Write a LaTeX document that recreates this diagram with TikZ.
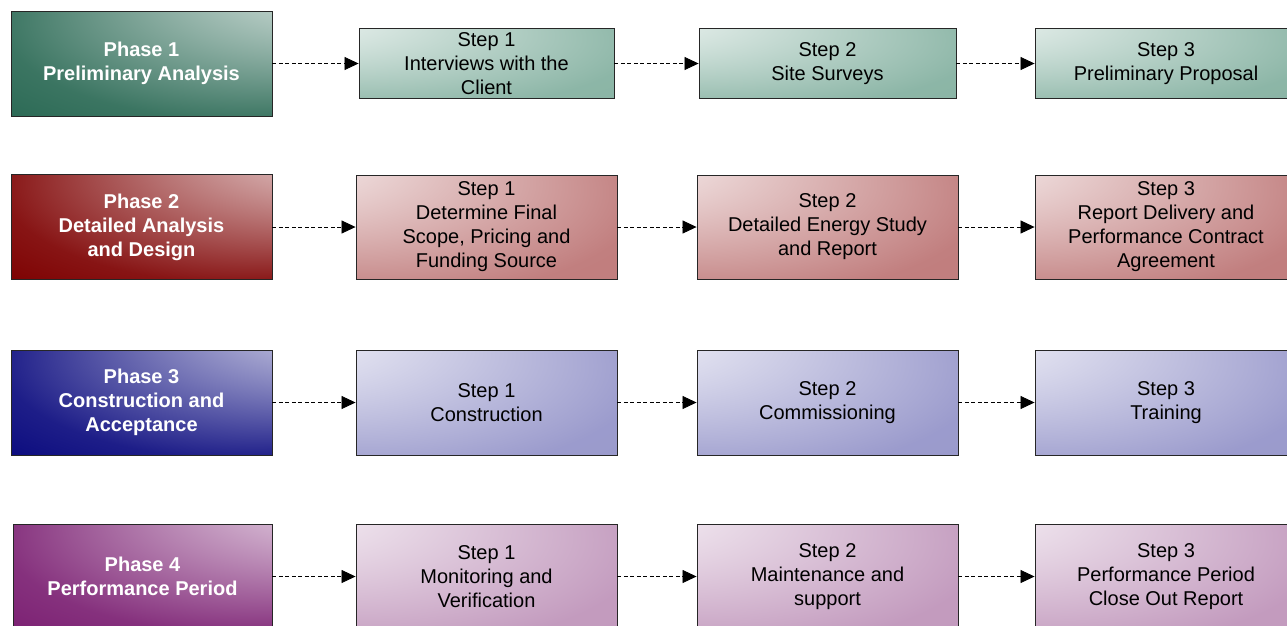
\documentclass[tikz,border=0pt]{standalone}
\usepackage{fontspec}
\setmainfont{Liberation Sans}
\usetikzlibrary{arrows.meta}
\definecolor{pgA}{HTML}{2A6954}\definecolor{sgA}{HTML}{86B2A2}
\definecolor{pgB}{HTML}{7D0000}\definecolor{sgB}{HTML}{BE7878}
\definecolor{pgC}{HTML}{0A0A7E}\definecolor{sgC}{HTML}{9696CA}
\definecolor{pgD}{HTML}{7B1F72}\definecolor{sgD}{HTML}{C096BB}
\newcommand\mkphaseshade[2]{\pgfdeclareradialshading{#1}{\pgfpoint{50bp}{50bp}}{color(0bp)=(white); color(8bp)=(#2!15!white); color(28bp)=(#2!55!white); color(46bp)=(#2!92!white); color(56bp)=(#2); color(75bp)=(#2)}}
\newcommand\mkstepshade[2]{\pgfdeclareradialshading{#1}{\pgfpoint{-50bp}{40bp}}{color(0bp)=(white); color(12bp)=(#2!22!white); color(48bp)=(#2!95!white); color(75bp)=(#2)}}
\mkphaseshade{phA}{pgA}\mkphaseshade{phB}{pgB}\mkphaseshade{phC}{pgC}\mkphaseshade{phD}{pgD}
\mkstepshade{stA}{sgA}\mkstepshade{stB}{sgB}\mkstepshade{stC}{sgC}\mkstepshade{stD}{sgD}
\tikzset{
  phasebox/.style={draw=black!85, line width=0.9pt, align=center, text=white,
    font=\fontsize{20}{24}\selectfont\bfseries, minimum width=261pt, minimum height=105pt, inner sep=0pt},
  stepbox/.style={draw=black!85, line width=0.9pt, align=center, text=black,
    font=\fontsize{20}{24}\selectfont, minimum height=#1, inner sep=0pt},
  stepbox/.default=104pt,
  flow/.style={dash pattern=on 4pt off 2.5pt, line width=0.8pt, -{Triangle[length=14pt,width=13pt]}}
}
\begin{document}
\begin{tikzpicture}[x=1pt,y=-1pt]
\useasboundingbox (0,0) rectangle (1287,625);
\clip (0,0) rectangle (1287,625);
% Row 1
\node[phasebox, shading=phA] (p1) at (141.5,63.5) {Phase 1\\Preliminary Analysis};
\node[stepbox=70pt, shading=stA, minimum width=255pt] (s11) at (486.5,63.5) {Step 1\\Interviews with the\\Client};
\node[stepbox=70pt, shading=stA, minimum width=257pt] (s12) at (827.5,63.5) {Step 2\\Site Surveys};
\node[stepbox=70pt, shading=stA, minimum width=262pt] (s13) at (1166,63.5) {Step 3\\Preliminary Proposal};
% Row 2
\node[phasebox, shading=phB] (p2) at (141.5,227) {Phase 2\\Detailed Analysis\\and Design};
\node[stepbox, shading=stB, minimum width=261pt] (s21) at (486.5,227) {Step 1\\Determine Final\\Scope, Pricing and\\Funding Source};
\node[stepbox, shading=stB, minimum width=261pt] (s22) at (827.5,227) {Step 2\\Detailed Energy Study\\and Report};
\node[stepbox, shading=stB, minimum width=262pt] (s23) at (1166,227) {Step 3\\Report Delivery and\\Performance Contract\\Agreement};
% Row 3
\node[phasebox, shading=phC] (p3) at (141.5,402.5) {Phase 3\\Construction and\\Acceptance};
\node[stepbox=105pt, shading=stC, minimum width=261pt] (s31) at (486.5,402.5) {Step 1\\Construction};
\node[stepbox=105pt, shading=stC, minimum width=261pt] (s32) at (827.5,402.5) {Step 2\\Commissioning};
\node[stepbox=105pt, shading=stC, minimum width=262pt] (s33) at (1166,402.5) {Step 3\\Training};
% Row 4
\node[phasebox, shading=phD, minimum width=259pt] (p4) at (142.5,576.5) {Phase 4\\Performance Period};
\node[stepbox=105pt, shading=stD, minimum width=261pt] (s41) at (486.5,576.5) {Step 1\\Monitoring and\\Verification};
\node[stepbox=105pt, shading=stD, minimum width=261pt] (s42) at (827.5,576.5) {Step 2\\Maintenance and\\support};
\node[stepbox=105pt, shading=stD, minimum width=262pt] (s43) at (1166,576.5) {Step 3\\Performance Period\\Close Out Report};
% connectors
\foreach \r in {1,2,3,4}{
  \draw[flow] (p\r.east) -- (s\r1.west);
  \draw[flow] (s\r1.east) -- (s\r2.west);
  \draw[flow] (s\r2.east) -- (s\r3.west);
}
\end{tikzpicture}
\end{document}
